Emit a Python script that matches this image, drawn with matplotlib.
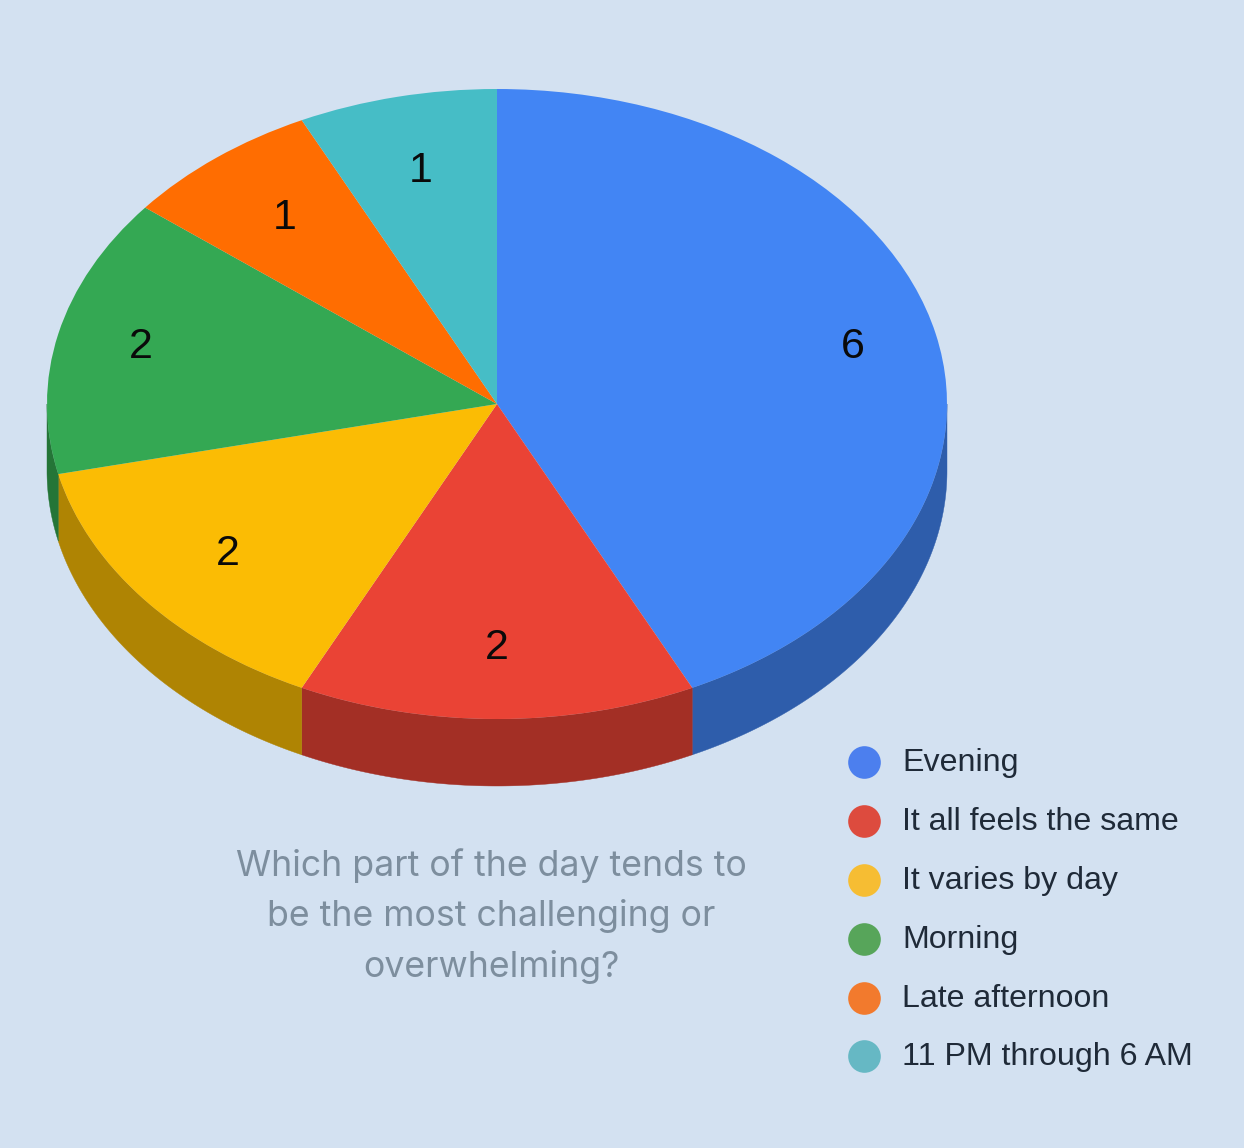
import numpy as np
import matplotlib
matplotlib.use("Agg")
import matplotlib.pyplot as plt

categories = ["Evening", "It all feels the same", "It varies by day", "Morning", "Late afternoon", "11 PM through 6 AM"]
values = [6, 2, 2, 2, 1, 1]
top_colors = ["#4285F4", "#EA4335", "#FBBC04", "#34A853", "#FF6D01", "#46BDC6"]
side_colors = ["#2E5DAB", "#A32F25", "#AF8403", "#247537", "#B24C01", "#31848A"]
legend_colors = ["#4C7FEE", "#DD4B3E", "#F6BD33", "#57A55A", "#F27A2D", "#66B8C4"]
title = "Which part of the day tends to\nbe the most challenging or\noverwhelming?"
background = "#D3E1F1"

W, H = 1244, 1148
CX, CY, RX, RY, DEPTH = 497, 404, 450, 315, 67

fig = plt.figure(figsize=(W / 100, H / 100), dpi=100, facecolor=background)
# Axes whose unit circle maps to the pie's ellipse on the page
margin = 1.3
ax = fig.add_axes([(CX - margin * RX) / W, 1 - (CY + margin * RY) / H,
                   2 * margin * RX / W, 2 * margin * RY / H])
ax.set_facecolor("none")

wedges, _ = ax.pie(values, colors=top_colors, startangle=90, counterclock=False,
                   radius=1, center=(0, 0), frame=False,
                   wedgeprops=dict(linewidth=0, zorder=3))
ax.set_aspect("auto")
ax.set_xlim(-margin, margin)
ax.set_ylim(-margin, margin)
ax.axis("off")

# Side walls for the front half of the disc
depth = DEPTH / RY
edges = np.cumsum([0] + values) / sum(values) * 360
for start, end, color in zip(edges[:-1], edges[1:], side_colors):
    a, b = max(start, 90), min(end, 270)
    if b <= a:
        continue
    t = np.radians(np.linspace(a, b, 120))
    x, y = np.sin(t), np.cos(t)
    ax.fill(np.r_[x, x[::-1]], np.r_[y, (y - depth)[::-1]], color=color, lw=0.3, zorder=2)

# Value labels placed along each slice's mid-angle
label_radii = [0.81, 0.775, 0.765, 0.812, 0.757, 0.76]
for start, end, v, r in zip(edges[:-1], edges[1:], values, label_radii):
    t = np.radians((start + end) / 2)
    ax.text(r * np.sin(t), r * np.cos(t), str(v), ha="center", va="center",
            fontsize=31, family="Liberation Sans", color="#0A0A0A", zorder=4)

fig.text(491.5 / W, 1 - 916 / H, title, ha="center", va="center", fontsize=25.7,
         family="Inter", color="#7D8E9E", linespacing=1.6)

overlay = fig.add_axes([0, 0, 1, 1], facecolor="none")
overlay.set_xlim(0, W)
overlay.set_ylim(H, 0)
overlay.axis("off")
legend_y = [762, 821, 880, 939, 998, 1056]
for y, name, color in zip(legend_y, categories, legend_colors):
    overlay.plot([864], [y], "o", ms=23.5, color=color, mew=0)
    overlay.text(902, y + 1, name, ha="left", va="center", fontsize=23.1,
                 family="Liberation Sans", color="#1F2A38")

fig.savefig("out.png", dpi=100, facecolor=background)
